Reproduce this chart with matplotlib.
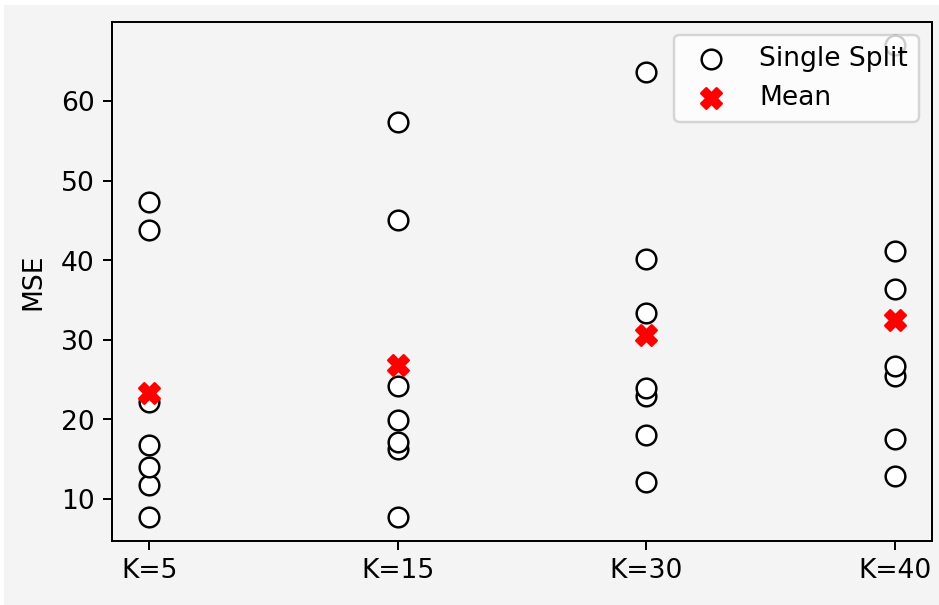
import numpy as np
import matplotlib
matplotlib.use("Agg")
import matplotlib.pyplot as plt
from matplotlib.patches import Rectangle

labels = ['K=5', 'K=15', 'K=30', 'K=40']
k5 = [7.7, 11.8, 14.0, 16.8, 22.2, 43.8, 47.3]
k15 = [7.8, 16.3, 17.2, 19.9, 24.2, 45.0, 57.4]
k30 = [12.2, 18.0, 22.9, 23.9, 33.4, 40.1, 63.6]
k40 = [12.9, 17.6, 25.4, 26.7, 36.4, 41.2, 67.0]
splits = [k5, k15, k30, k40]
means = [np.mean(s) for s in splits]

plt.rcParams['font.size'] = 10.8
bg = '#f4f4f4'
fig = plt.figure(figsize=(939.3 / 177, 605.3 / 177), dpi=177, facecolor='white')
fig.patches.append(Rectangle((4 / 939, 0), 1, 600 / 605, transform=fig.transFigure,
                             facecolor=bg, edgecolor='none', zorder=-1))
ax = fig.add_axes([112 / 939, 64 / 605, 819.5 / 939, 519 / 605])
ax.set_facecolor(bg)

for i, s in enumerate(splits):
    ax.scatter([i] * len(s), s, s=64, facecolors='white', edgecolors='black',
               linewidths=1.0, zorder=2, label='Single Split' if i == 0 else None)
ax.scatter(range(len(means)), means, s=70, marker='X', color='red', zorder=3, label='Mean')

ax.set_xticks(range(len(labels)))
ax.set_xticklabels(labels)
ax.set_ylabel('MSE', labelpad=6)
ax.legend(loc='upper right', facecolor='white')
fig.savefig('out.png', dpi=177, facecolor=fig.get_facecolor())
